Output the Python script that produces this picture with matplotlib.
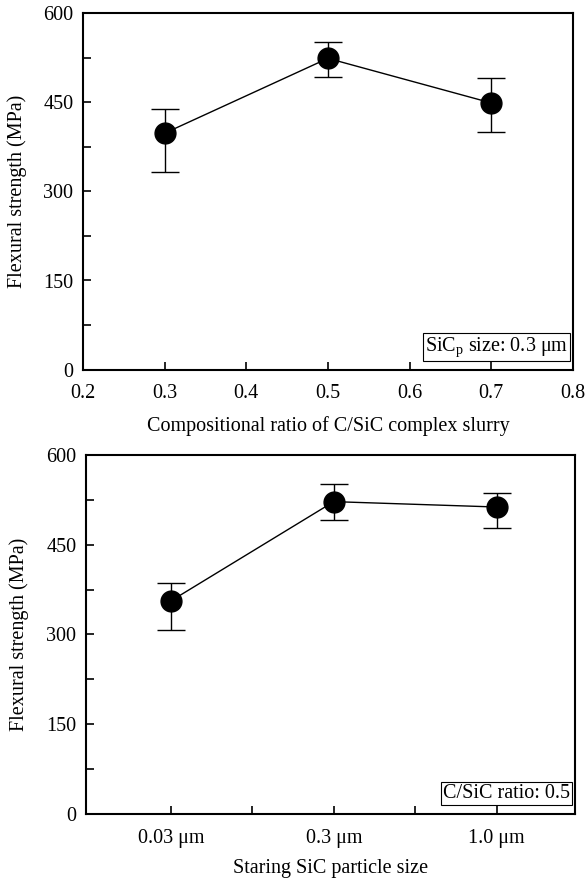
import matplotlib
matplotlib.use("Agg")
import matplotlib.pyplot as plt
import numpy as np

plt.rcParams['font.family'] = ['Liberation Serif', 'DejaVu Serif']
plt.rcParams['mathtext.fontset'] = 'custom'
plt.rcParams['mathtext.rm'] = 'Liberation Serif'

# Top panel data
ratio = [0.3, 0.5, 0.7]
strength_ratio = [398, 524, 449]
err_lo_ratio = [65, 32, 49]
err_hi_ratio = [41, 27, 42]

# Bottom panel data
sizes = ['0.03 \u03bcm', '0.3 \u03bcm', '1.0 \u03bcm']
strength_size = [356, 522, 513]
err_lo_size = [49, 31, 35]
err_hi_size = [30, 30, 24]

ylabel = 'Flexural strength (MPa)'
yticks = [0, 150, 300, 450, 600]

fig = plt.figure(figsize=(5.85, 8.8), dpi=100)
ax1 = fig.add_axes([0.142, 0.580, 0.837, 0.405])
ax2 = fig.add_axes([0.147, 0.075, 0.836, 0.408])

fs = 14.5

def style(ax):
    for s in ax.spines.values():
        s.set_linewidth(1.5)
    ax.set_ylim(0, 600)
    ax.set_yticks(yticks)
    ax.set_yticks(np.arange(0, 601, 75), minor=True)
    ax.tick_params(axis='both', which='both', direction='in', top=False, right=False,
                   labelsize=fs, width=1.2)
    ax.tick_params(which='major', length=6)
    ax.tick_params(which='minor', length=6)
    ax.tick_params(axis='y', pad=7)
    ax.set_ylabel(ylabel, fontsize=fs, labelpad=12)

# Top
ax1.errorbar(ratio, strength_ratio, yerr=[err_lo_ratio, err_hi_ratio], color='black',
             marker='o', markersize=15, linewidth=1, elinewidth=1, capsize=10, capthick=1)
ax1.set_xlim(0.2, 0.8)
ax1.set_xticks([0.2, 0.3, 0.4, 0.5, 0.6, 0.7, 0.8])
ax1.set_xticklabels(['0.2', '0.3', '0.4', '0.5', '0.6', '0.7', '0.8'])
style(ax1)
ax1.tick_params(axis='x', pad=10.5)
ax1.set_xlabel('Compositional ratio of C/SiC complex slurry', fontsize=fs, labelpad=9.5)
ax1.text(0.99, 0.03, 'SiC$_\\mathrm{p}$ size: 0.3 \u03bcm', transform=ax1.transAxes,
         ha='right', va='bottom', fontsize=fs,
         bbox=dict(boxstyle='square,pad=0.1', facecolor='white', edgecolor='black', linewidth=0.8))

# Bottom
xpos = np.arange(1, len(sizes) + 1)
ax2.errorbar(xpos, strength_size, yerr=[err_lo_size, err_hi_size], color='black',
             marker='o', markersize=15, linewidth=1, elinewidth=1, capsize=10, capthick=1)
ax2.set_xlim(0.48, 3.48)
ax2.set_xticks(xpos)
ax2.set_xticklabels(sizes)
ax2.set_xticks([1.5, 2.5], minor=True)
style(ax2)
ax2.tick_params(axis='x', pad=11)
ax2.set_xlabel('Staring SiC particle size', fontsize=fs, labelpad=7.5)
ax2.text(0.99, 0.03, 'C/SiC ratio: 0.5', transform=ax2.transAxes,
         ha='right', va='bottom', fontsize=fs,
         bbox=dict(boxstyle='square,pad=0.1', facecolor='white', edgecolor='black', linewidth=0.8))

fig.savefig('out.png', dpi=100)
